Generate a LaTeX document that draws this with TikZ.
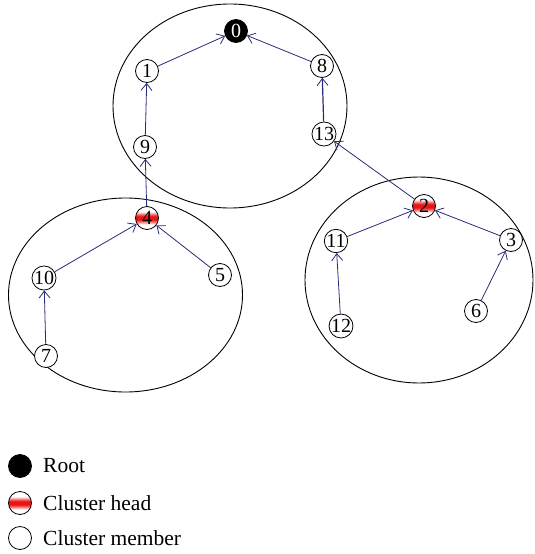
\documentclass[tikz,border=0pt]{standalone}
\usepackage{fontspec}
\setmainfont{Liberation Serif}
\usetikzlibrary{arrows.meta}
\definecolor{edgeblue}{RGB}{40,44,120}
\definecolor{headred}{RGB}{235,20,20}
% red band across the middle of a cluster head
\pgfdeclareverticalshading{headband}{100bp}{color(0bp)=(white); color(25bp)=(white);
  color(36bp)=(white); color(46bp)=(headred); color(54bp)=(headred); color(64bp)=(white);
  color(75bp)=(white); color(100bp)=(white)}
\begin{document}
\begin{tikzpicture}[x=1pt,y=-1pt,
  member/.style={circle,draw=black,line width=0.8pt,fill=white,minimum size=23pt,inner sep=0pt,
    font=\fontsize{20}{20}\selectfont},
  head/.style={member,shading=headband},
  rootnode/.style={member,fill=black,text=white},
  link/.style={draw=edgeblue,line width=0.8pt,-{Straight Barb[length=7pt,width=11pt,line width=0.8pt]}},
  cluster/.style={draw=black,line width=0.9pt},
  legtext/.style={anchor=west,inner sep=0pt,font=\fontsize{21.5}{22}\selectfont}]
\useasboundingbox (0,0) rectangle (535,554);

% cluster outlines
\draw[cluster] (230,106) ellipse [x radius=117pt, y radius=102pt];
\draw[cluster] (125.5,295) ellipse [x radius=117pt, y radius=97pt];
\draw[cluster] (419,280) ellipse [x radius=114pt, y radius=103pt];

% nodes
\node[rootnode] (n0) at (236,31) {0};
\node[member] (n1) at (147,71) {1};
\node[member] (n8) at (322,66) {8};
\node[member] (n9) at (145,147) {9};
\node[member] (n13) at (324,134) {13};
\node[head] (n4) at (147,218) {4};
\node[member] (n10) at (44,278) {10};
\node[member] (n5) at (220,275) {5};
\node[member] (n7) at (46,356) {7};
\node[head] (n2) at (424,206) {2};
\node[member] (n11) at (336,241) {11};
\node[member] (n3) at (511,240) {3};
\node[member] (n6) at (476,311) {6};
\node[member] (n12) at (341,326) {12};

% tree links, child to parent
\draw[link] (n1) -- (n0);
\draw[link] (n8) -- (n0);
\draw[link] (n9) -- (n1);
\draw[link,line width=1.2pt] (n13) -- (n8);
\draw[link] (n4) -- (n9);
\draw[link] (n2) -- (n13);
\draw[link] (n10) -- (n4);
\draw[link] (n5) -- (n4);
\draw[link] (n7) -- (n10);
\draw[link] (n11) -- (n2);
\draw[link] (n3) -- (n2);
\draw[link] (n6) -- (n3);
\draw[link] (n12) -- (n11);

% legend
\node[rootnode] (lroot) at (20,466) {};
\node[head] (lhead) at (20,503) {};
\node[member] (lmember) at (20,538) {};
\node[legtext] (troot) at (43,466) {Root};
\node[legtext] (thead) at (43,503) {Cluster head};
\node[legtext] (tmember) at (43,538) {Cluster member};
\end{tikzpicture}
\end{document}
